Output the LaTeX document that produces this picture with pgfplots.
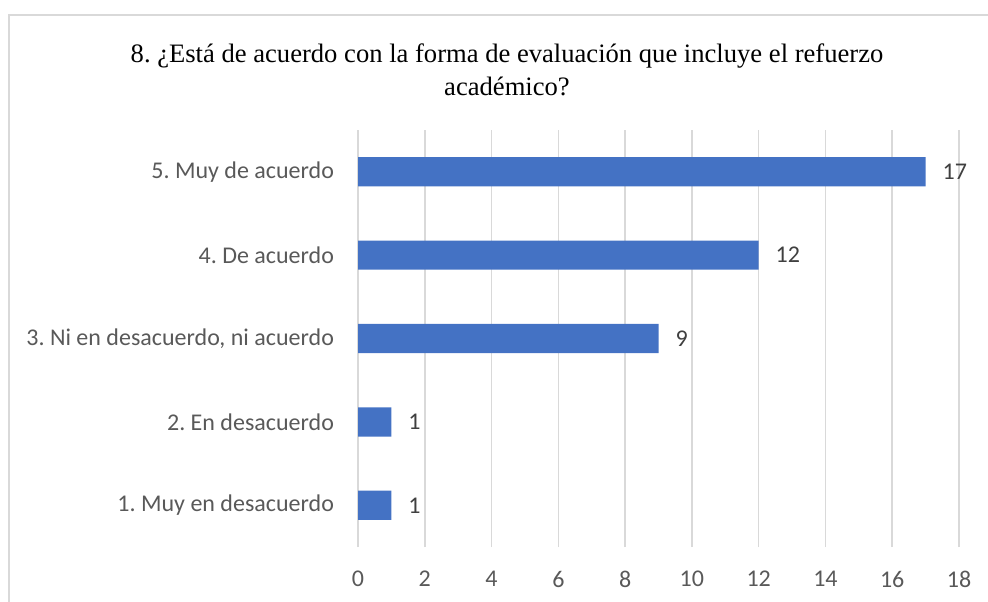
\documentclass[border=0pt]{standalone}
\usepackage{pgfplots}
\pgfplotsset{compat=1.18}
\usepackage{fontspec}
\setmainfont{Carlito}
\newfontfamily\titlefont{Liberation Serif}
\definecolor{barblue}{HTML}{4472C4}
\definecolor{gridgrey}{HTML}{D9D9D9}
\definecolor{labgrey}{HTML}{595959}
\definecolor{datgrey}{HTML}{404040}
\frenchspacing
\begin{document}
\begin{tikzpicture}
\useasboundingbox (0,0) rectangle (494pt,-300.5pt);
\begin{scope}
\clip (0,0) rectangle (494pt,-300.5pt);
\draw[gridgrey, line width=0.75pt] (4.5pt,-320pt) -- (4.5pt,-7.5pt) -- (520pt,-7.5pt);
\end{scope}
\node[anchor=base, font=\titlefont\fontsize{13.3}{16}\selectfont, text=black] at (253.5pt,-31pt) {8. ¿Está de acuerdo con la forma de evaluación que incluye el refuerzo};
\node[anchor=base, font=\titlefont\fontsize{13.3}{16}\selectfont, text=black] at (253.5pt,-47.5pt) {académico?};
\begin{axis}[
  at={(179pt,-65pt)}, anchor=north west,
  scale only axis, width=300.5pt, height=208.5pt,
  /pgf/number format/assume math mode=true,
  xbar, bar width=0.35,
  xmin=0, xmax=18, ymin=-0.5, ymax=4.5,
  xtick={0,2,...,18},
  ytick={0,1,2,3,4},
  yticklabels={1. Muy en desacuerdo, 2. En desacuerdo, {3. Ni en desacuerdo, ni acuerdo}, 4. De acuerdo, 5. Muy de acuerdo},
  axis line style={draw=none},
  major tick length=0pt,
  xmajorgrids, ymajorgrids=false,
  major grid style={gridgrey, line width=0.75pt},
  xticklabel style={font=\fontsize{12}{14}\selectfont, text=labgrey, anchor=north, yshift=-8.5pt},
  yticklabel style={font=\fontsize{12}{14}\selectfont, text=labgrey, anchor=east, xshift=-8.5pt},
  nodes near coords,
  every node near coord/.append style={font=\fontsize{12}{14}\selectfont, text=datgrey, anchor=west, xshift=5pt},
  clip=false,
]
\addplot[fill=barblue, draw=none] coordinates {(1,0) (1,1) (9,2) (12,3) (17,4)};
\end{axis}
\end{tikzpicture}
\end{document}
